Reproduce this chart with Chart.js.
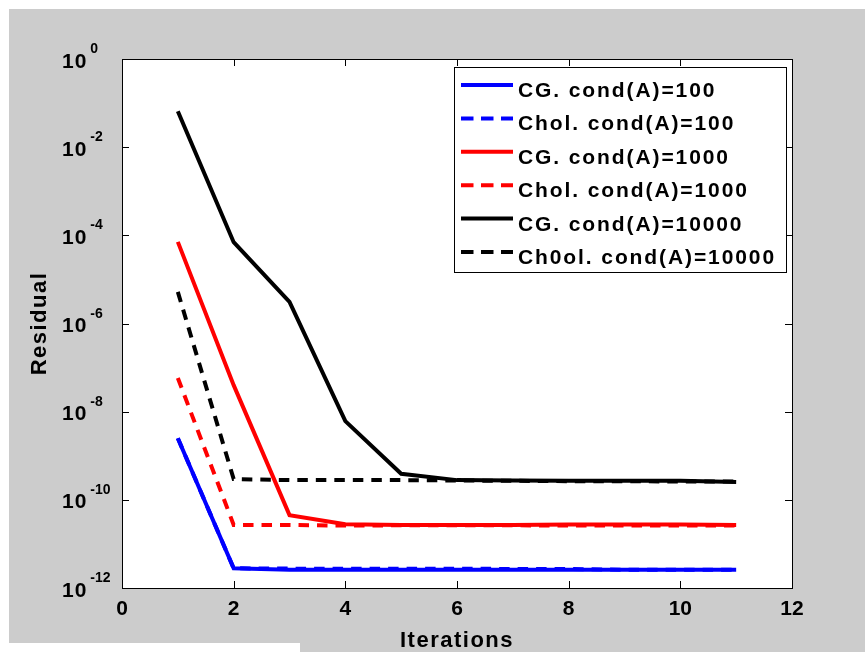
<!DOCTYPE html>
<html><head><meta charset="utf-8">
<script src="https://cdn.jsdelivr.net/npm/chart.js@4.4.1/dist/chart.umd.min.js"></script>
<style>html,body{margin:0;padding:0;background:#fff;}canvas{display:block;}</style>
</head><body>
<canvas id="c" width="865" height="652"></canvas>
<script>
// ---- data ----
const iterations = [1, 2, 3, 4, 5, 6, 7, 8, 9, 10, 11];
const seriesLabels = ['CG. cond(A)=100', 'Chol. cond(A)=100', 'CG. cond(A)=1000', 'Chol. cond(A)=1000', 'CG. cond(A)=10000', 'Ch0ol. cond(A)=10000'];
const cg100    = [2.5e-9, 2.8e-12, 2.6e-12, 2.6e-12, 2.6e-12, 2.6e-12, 2.6e-12, 2.6e-12, 2.6e-12, 2.6e-12, 2.6e-12];
const chol100  = [2.5e-9, 2.8e-12, 2.75e-12, 2.75e-12, 2.75e-12, 2.75e-12, 2.7e-12, 2.7e-12, 2.6e-12, 2.6e-12, 2.6e-12];
const cg1000   = [7.1e-5, 4.0e-8, 4.5e-11, 2.8e-11, 2.7e-11, 2.7e-11, 2.7e-11, 2.75e-11, 2.75e-11, 2.75e-11, 2.7e-11];
const chol1000 = [5.8e-8, 2.7e-11, 2.7e-11, 2.6e-11, 2.65e-11, 2.65e-11, 2.65e-11, 2.6e-11, 2.6e-11, 2.6e-11, 2.6e-11];
const cg10000  = [6.5e-2, 7.0e-5, 3.1e-6, 6.1e-9, 3.9e-10, 2.8e-10, 2.75e-10, 2.7e-10, 2.7e-10, 2.7e-10, 2.55e-10];
const chol10000= [5.2e-6, 2.95e-10, 2.8e-10, 2.8e-10, 2.8e-10, 2.75e-10, 2.7e-10, 2.65e-10, 2.65e-10, 2.6e-10, 2.6e-10];
const xTickValues = [0, 2, 4, 6, 8, 10, 12];
const yExponents = [0, -2, -4, -6, -8, -10, -12];
const xTitle = 'Iterations';
const yTitle = 'Residual';

// ---- styles ----
const allSeries = [cg100, chol100, cg1000, chol1000, cg10000, chol10000];
const colors = ['#0000ff', '#0000ff', '#ff0000', '#ff0000', '#000000', '#000000'];
const dashed = [false, true, false, true, false, true];
const FONT = '"Liberation Sans", Arial, Helvetica, sans-serif';

const datasets = allSeries.map((vals, i) => ({
  label: seriesLabels[i],
  data: iterations.map((x, j) => ({x: x, y: vals[j]})),
  borderColor: colors[i],
  backgroundColor: colors[i],
  borderWidth: 4,
  borderDash: dashed[i] ? [10.5, 8] : [],
  borderCapStyle: 'butt',
  borderJoinStyle: 'miter',
  pointRadius: 0,
  fill: false,
  tension: 0,
  order: allSeries.length - i
}));

const bgPlugin = {
  id: 'bg',
  beforeDraw(chart) {
    const ctx = chart.ctx, a = chart.chartArea;
    ctx.save();
    ctx.fillStyle = '#ffffff';
    ctx.fillRect(0, 0, chart.width, chart.height);
    ctx.fillStyle = '#cccccc';
    ctx.fillRect(9, 9, chart.width - 9, chart.height - 9);
    ctx.fillStyle = '#ffffff';
    ctx.fillRect(0, 643, 300, 9);
    ctx.fillRect(a.left, a.top, a.right - a.left, a.bottom - a.top);
    ctx.restore();
  }
};

const boxPlugin = {
  id: 'box',
  afterDatasetsDraw(chart) {
    const ctx = chart.ctx, a = chart.chartArea;
    const xs = chart.scales.x, ys = chart.scales.y;
    const L = 7;
    ctx.save();
    ctx.strokeStyle = '#000';
    ctx.lineWidth = 1;
    ctx.strokeRect(Math.round(a.left) + 0.5, Math.round(a.top) + 0.5, Math.round(a.right - a.left), Math.round(a.bottom - a.top));
    ctx.beginPath();
    xTickValues.forEach(v => {
      const px = Math.round(xs.getPixelForValue(v)) + 0.5;
      ctx.moveTo(px, a.bottom); ctx.lineTo(px, a.bottom - L);
      ctx.moveTo(px, a.top); ctx.lineTo(px, a.top + L);
    });
    yExponents.forEach(e => {
      const py = Math.round(ys.getPixelForValue(Math.pow(10, e))) + 0.5;
      ctx.moveTo(a.left, py); ctx.lineTo(a.left + L, py);
      ctx.moveTo(a.right, py); ctx.lineTo(a.right - L, py);
    });
    ctx.stroke();

    // y tick labels with superscripts
    ctx.fillStyle = '#000';
    ctx.textAlign = 'left';
    ctx.textBaseline = 'alphabetic';
    yExponents.forEach(e => {
      const py = ys.getPixelForValue(Math.pow(10, e));
      ctx.font = 'bold 21px ' + FONT;
      ctx.letterSpacing = '1px';
      ctx.fillText('10', 62, py + 8.5);
      const w = ctx.measureText('10').width;
      ctx.font = 'bold 14px ' + FONT;
      ctx.letterSpacing = '0px';
      ctx.fillText(String(e), 62 + w + 3, py - 6);
    });

    // axis titles
    ctx.font = 'bold 22px ' + FONT;
    ctx.letterSpacing = '1.5px';
    ctx.textAlign = 'center';
    ctx.fillText(xTitle, (a.left + a.right) / 2, 647);
    ctx.save();
    ctx.translate(46, (a.top + a.bottom) / 2);
    ctx.rotate(-Math.PI / 2);
    ctx.fillText(yTitle, 0, 0);
    ctx.restore();

    // legend
    const lx = 454, ly = 67, lw = 332, lh = 205;
    ctx.fillStyle = '#fff';
    ctx.fillRect(lx, ly, lw, lh);
    ctx.strokeStyle = '#000';
    ctx.lineWidth = 1;
    ctx.strokeRect(lx + 0.5, ly + 0.5, lw, lh);
    ctx.font = 'bold 21px ' + FONT;
    ctx.letterSpacing = '1.9px';
    ctx.textAlign = 'left';
    seriesLabels.forEach((lab, i) => {
      const y = 85 + i * 33.4;
      ctx.beginPath();
      ctx.strokeStyle = colors[i];
      ctx.lineWidth = 4;
      ctx.lineCap = 'butt';
      ctx.setLineDash(dashed[i] ? [12.5, 7.5] : []);
      ctx.moveTo(461, y);
      ctx.lineTo(513, y);
      ctx.stroke();
      ctx.setLineDash([]);
      ctx.fillStyle = '#000';
      ctx.fillText(lab, 518, y + 12);
    });
    ctx.restore();
  }
};

new Chart(document.getElementById('c'), {
  type: 'line',
  data: { datasets: datasets },
  options: {
    responsive: false,
    animation: false,
    events: [],
    layout: { padding: { left: 0, top: 59, right: 73, bottom: 0 } },
    plugins: { legend: { display: false }, tooltip: { enabled: false }, title: { display: false } },
    scales: {
      x: {
        type: 'linear', min: 0, max: 12,
        grid: { display: false, drawTicks: false },
        border: { display: false },
        ticks: { stepSize: 2, color: '#000', padding: 9, font: { family: FONT, size: 21, weight: 'bold' }, maxRotation: 0, autoSkip: false },
        afterBuildTicks(s) { s.ticks = xTickValues.map(v => ({ value: v })); },
        afterFit(s) { s.height = 64; }
      },
      y: {
        type: 'logarithmic', min: 1e-12, max: 1,
        grid: { display: false, drawTicks: false },
        border: { display: false },
        ticks: { display: false },
        afterBuildTicks(s) { s.ticks = yExponents.map(e => ({ value: Math.pow(10, e) })); },
        afterFit(s) { s.width = 122; }
      }
    }
  },
  plugins: [bgPlugin, boxPlugin]
});
</script>
</body></html>
